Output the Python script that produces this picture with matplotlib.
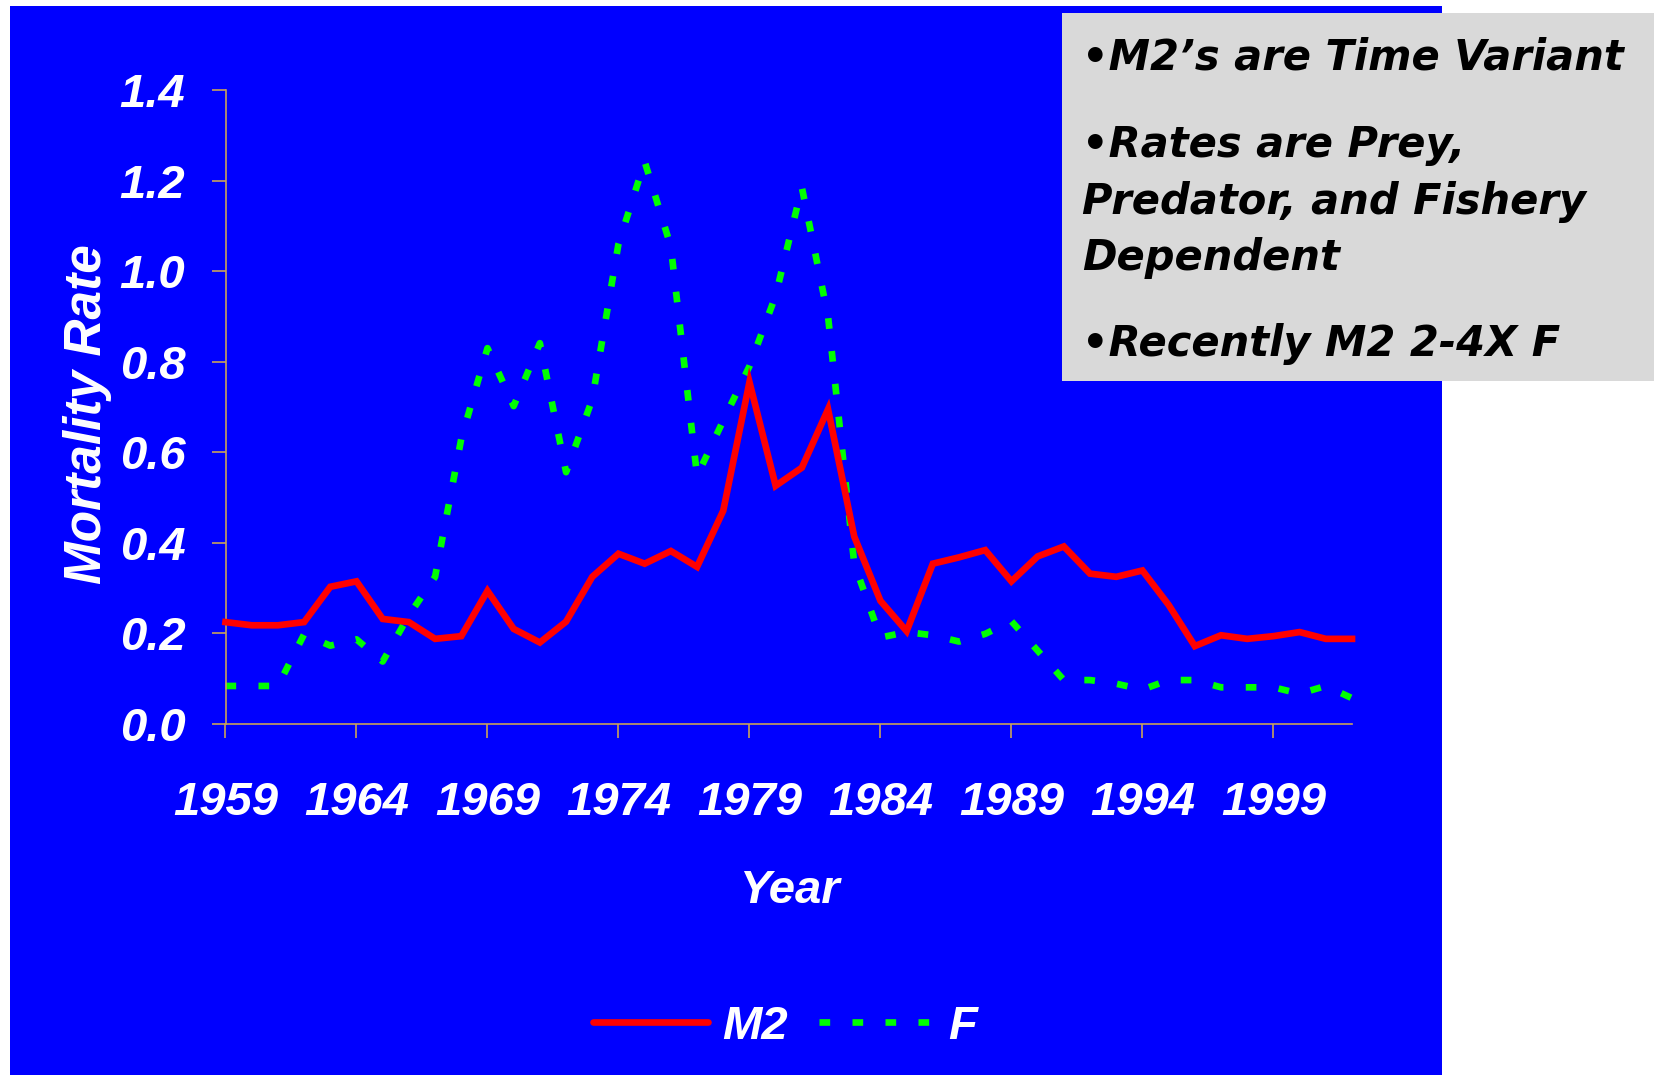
import matplotlib.pyplot as plt
from matplotlib.patches import Rectangle
from matplotlib.lines import Line2D
from matplotlib.font_manager import FontProperties

# data
years = list(range(1959, 2003))
m2 = [0.225, 0.218, 0.218, 0.225, 0.303, 0.315, 0.232, 0.225, 0.188, 0.194,
      0.294, 0.210, 0.180, 0.226, 0.325, 0.376, 0.354, 0.382, 0.347, 0.471,
      0.755, 0.526, 0.566, 0.695, 0.414, 0.272, 0.205, 0.354, 0.368, 0.384,
      0.315, 0.370, 0.392, 0.332, 0.325, 0.339, 0.263, 0.172, 0.196, 0.188,
      0.194, 0.203, 0.188, 0.188]
f_rate = [0.084, 0.084, 0.084, 0.198, 0.173, 0.187, 0.138, 0.240, 0.325, 0.630,
          0.830, 0.702, 0.841, 0.556, 0.717, 1.060, 1.242, 1.054, 0.548, 0.670,
          0.790, 0.946, 1.185, 0.900, 0.354, 0.191, 0.203, 0.196, 0.182, 0.199,
          0.227, 0.162, 0.097, 0.097, 0.089, 0.076, 0.097, 0.097, 0.081, 0.081,
          0.081, 0.067, 0.084, 0.057]
x_ticks = [1959, 1964, 1969, 1974, 1979, 1984, 1989, 1994, 1999]
y_ticks = [0.0, 0.2, 0.4, 0.6, 0.8, 1.0, 1.2, 1.4]
notes = ["\u2022M2\u2019s are Time Variant",
         "\u2022Rates are Prey,",
         "Predator, and Fishery",
         "Dependent",
         "\u2022Recently M2 2-4X F"]

W, H = 1660, 1075
BLUE = "#0000ff"
AXC = "#c8a25a"

fig = plt.figure(figsize=(W / 100, H / 100), dpi=100, facecolor="white")

# blue slide panel
fig.patches.append(Rectangle((10 / W, 0), (1442 - 10) / W, (H - 6) / H,
                             transform=fig.transFigure, facecolor=BLUE,
                             edgecolor="none", zorder=-2))

ax = fig.add_axes([225.5 / W, 1 - 724 / H, (1352 - 225.5) / W, (724 - 90) / H])
ax.set_facecolor("none")

ax.plot(years, m2, color="#ff0000", lw=4.8, solid_joinstyle="miter", clip_on=False, zorder=3)
ax.plot(years, f_rate, color="#00ff00", lw=4.8, ls=(0, (1.6, 3.35)),
        dash_capstyle="butt", clip_on=False, zorder=2)

ax.set_xlim(1959, 2002)
ax.set_ylim(0, 1.4)

# no Arial Narrow here, so plain bold italic a bit smaller
tick_font = FontProperties(family="Liberation Sans", weight="bold", style="italic", size=34)
ax.set_xticks(x_ticks)
ax.set_xticklabels([str(y) for y in x_ticks], fontproperties=tick_font, color="white")
ax.set_yticks(y_ticks)
ax.set_yticklabels([f"{v:.1f}" for v in y_ticks], fontproperties=tick_font, color="white")
ax.tick_params(axis="x", direction="out", length=10, width=1.2, color=AXC, pad=31)
ax.tick_params(axis="y", direction="out", length=10, width=1.2, color=AXC, pad=19)
for s in ["top", "right"]:
    ax.spines[s].set_visible(False)
for s in ["left", "bottom"]:
    ax.spines[s].set_color(AXC)
    ax.spines[s].set_linewidth(1.2)

fig.text(789 / W, 1 - 891 / H, "Year", ha="center", va="center", color="white",
         fontproperties=tick_font)
fig.text(87 / W, 1 - 414 / H, "Mortality Rate", ha="center", va="center",
         rotation=90, color="white", family="Liberation Sans", weight="bold",
         style="italic", size=37)

handles = [Line2D([], [], color="#ff0000", lw=4.8, solid_capstyle="round"),
           Line2D([], [], color="#00ff00", lw=4.8, ls=(0, (1.6, 3.35)))]
leg = fig.legend(handles, ["M2", "F"], loc="center", bbox_to_anchor=(785 / W, 1 - 1027 / H),
                 ncol=2, frameon=False, prop=tick_font, handlelength=2.45,
                 handletextpad=0.28, columnspacing=0.68, labelcolor="white")

# grey note box
fig.patches.append(Rectangle((1062 / W, 1 - 381 / H), (1654 - 1062) / W, (381 - 13) / H,
                             transform=fig.transFigure, facecolor="#d9d9d9",
                             edgecolor="none", zorder=5))
baselines = [70, 157, 214, 270, 356]
for txt, yb in zip(notes, baselines):
    fig.text(1082 / W, 1 - yb / H, txt, ha="left", va="baseline", color="black",
             family="DejaVu Sans", weight="bold", style="italic", size=30, zorder=6)

fig.savefig("out.png", dpi=100, facecolor="white")
